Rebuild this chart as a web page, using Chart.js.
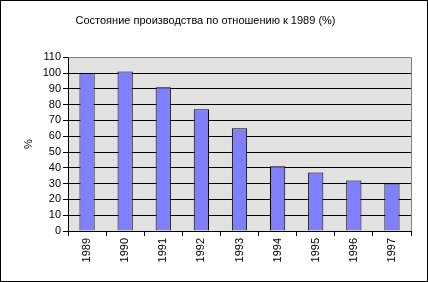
<!DOCTYPE html>
<html>
<head>
<meta charset="utf-8">
<script src="https://cdn.jsdelivr.net/npm/chart.js@4/dist/chart.umd.min.js"></script>
<style>
  html, body { margin: 0; padding: 0; background: #fff; }
  #wrap { width: 428px; height: 282px; }
</style>
</head>
<body>
<div id="wrap"><canvas id="myChart" width="428" height="282"></canvas></div>
<script>
const years = ['1989', '1990', '1991', '1992', '1993', '1994', '1995', '1996', '1997'];
const production = [100, 101, 91, 77, 65, 41, 37, 32, 30];
const titleText = 'Состояние производства по отношению к 1989 (%)';
const yTitle = '%';

const FONT = 'Arial, "Liberation Sans", sans-serif';

// grey plot background with faint dots, plus frame lines
const plotFrame = {
  id: 'plotFrame',
  beforeDraw(chart) {
    const {ctx, chartArea: a} = chart;
    ctx.save();
    ctx.fillStyle = '#e1e1e1';
    ctx.fillRect(a.left, a.top, a.right - a.left, a.bottom - a.top);
    ctx.fillStyle = '#ececec';
    for (let y = a.top + 2; y < a.bottom; y += 4) {
      for (let x = a.left + 2 + ((y / 4) % 2) * 2; x < a.right; x += 4) {
        ctx.fillRect(x, y, 1, 1);
      }
    }
    ctx.restore();
  },
  afterDraw(chart) {
    const {ctx, chartArea: a} = chart;
    ctx.save();
    ctx.strokeStyle = '#808080';
    ctx.lineWidth = 1;
    ctx.beginPath();
    ctx.moveTo(a.left, Math.round(a.top) + 0.5);
    ctx.lineTo(Math.round(a.right) + 0.5, Math.round(a.top) + 0.5);
    ctx.lineTo(Math.round(a.right) + 0.5, a.bottom);
    ctx.stroke();
    ctx.strokeStyle = '#000';
    ctx.strokeRect(0.5, 0.5, chart.width - 1, chart.height - 1);
    ctx.restore();
  }
};

let ctx = document.getElementById('myChart');
let myChart = new Chart(ctx, {
  type: 'bar',
  data: {
    labels: years,
    datasets: [{
      data: production,
      backgroundColor: '#8080ff',
      borderColor: '#000',
      borderWidth: 1,
      categoryPercentage: 1,
      barPercentage: 0.4
    }]
  },
  options: {
    responsive: false,
    animation: false,
    layout: { padding: { left: 0, right: 17, top: 0, bottom: 0 } },
    plugins: {
      legend: { display: false },
      tooltip: { enabled: false },
      title: {
        display: true,
        text: titleText,
        color: '#000',
        font: { family: FONT, size: 11, weight: 'normal' },
        padding: { top: 14, bottom: 30 }
      }
    },
    scales: {
      x: {
        grid: {
          offset: true,
          drawOnChartArea: false,
          color: '#000',
          tickLength: 5
        },
        border: { color: '#000' },
        ticks: {
          color: '#000',
          font: { family: FONT, size: 11 },
          autoSkip: false,
          minRotation: 90,
          maxRotation: 90,
          padding: 2
        },
        afterFit(scale) { scale.height = 51; }
      },
      y: {
        min: 0,
        max: 110,
        ticks: {
          stepSize: 10,
          autoSkip: false,
          color: '#000',
          font: { family: FONT, size: 11 },
          padding: 2
        },
        grid: {
          color: c => (c.tick && c.tick.value === 110) ? '#808080' : '#000',
          tickColor: '#000',
          tickLength: 5
        },
        border: { color: '#000' },
        title: {
          display: true,
          text: yTitle,
          color: '#000',
          font: { family: FONT, size: 11 },
          padding: { top: 22, bottom: 0 }
        },
        afterFit(scale) { scale.width = 68; }
      }
    }
  },
  plugins: [plotFrame]
});
</script>
</body>
</html>
